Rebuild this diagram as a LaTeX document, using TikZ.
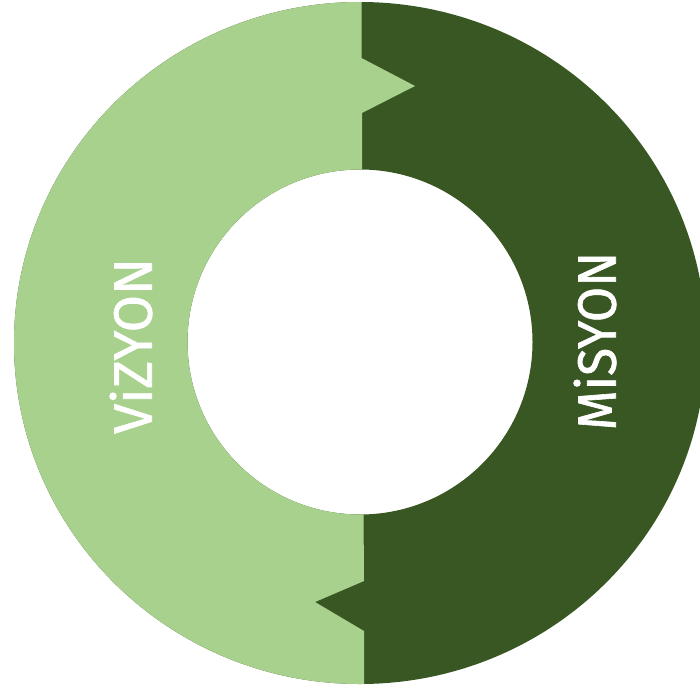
\documentclass[tikz,border=0pt]{standalone}
\usepackage{fontspec}
\setmainfont{Fira Sans}
\newfontfamily\labelfont[FakeBold=1.2]{Fira Sans}
\definecolor{lightgreen}{HTML}{A9D18E}
\definecolor{darkgreen}{HTML}{385723}
\begin{document}
\begin{tikzpicture}[x=1pt,y=-1pt,
  ringlabel/.style={text=white,font=\labelfont\fontsize{54}{54}\selectfont,rotate=90,inner sep=0pt,anchor=center}]
\useasboundingbox (0,0) rectangle (700,687);
% dark ring
\fill[darkgreen,even odd rule] (360,343) ellipse [x radius=346,y radius=341]
  (360,342) circle [radius=172.5];
% light part
\begin{scope}
\clip (-10,-10) -- (361.5,-10) -- (361.5,58) -- (415,86) -- (362,113) -- (362,300)
  -- (364,581) -- (315,602) -- (364,631) -- (364,700) -- (-10,700) -- cycle;
\fill[lightgreen,even odd rule] (360,343) ellipse [x radius=346,y radius=341]
  (360,342) circle [radius=172.5];
\end{scope}
\node[ringlabel] (vizyon) at (131,346) {\scalebox{1.0}[1]{ViZYON}};
\node[ringlabel] (misyon) at (595,341) {\scalebox{0.95}[1]{MiSYON}};
\end{tikzpicture}
\end{document}
